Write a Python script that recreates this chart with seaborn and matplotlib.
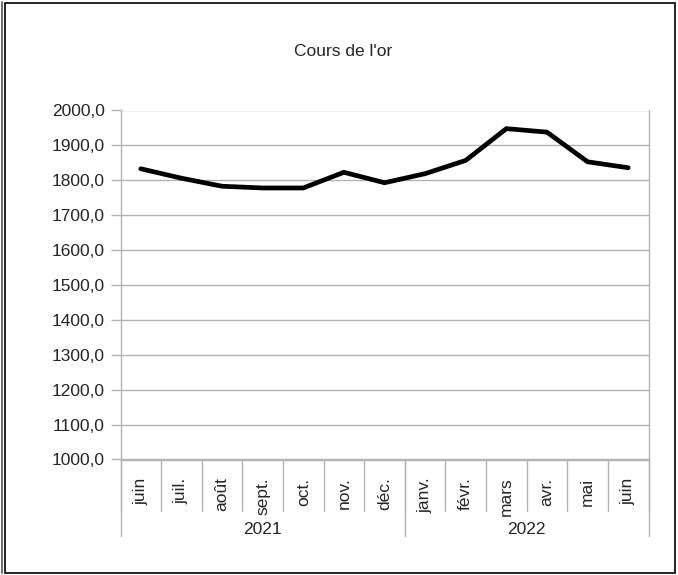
import matplotlib
matplotlib.use("Agg")
import matplotlib.pyplot as plt
import matplotlib.transforms as mtransforms
from matplotlib.patches import Rectangle
from matplotlib.lines import Line2D
import numpy as np
import pandas as pd
import seaborn as sns

# données
mois = ["juin", "juil.", "août", "sept.", "oct.", "nov.", "déc.",
        "janv.", "févr.", "mars", "avr.", "mai", "juin"]
annees = ["2021", "2022"]
mois_par_annee = [7, 6]
cours = [1833, 1806, 1783, 1778, 1778, 1823, 1793,
         1819, 1857, 1948, 1938, 1853, 1836]
y_ticks = list(range(1000, 2001, 100))

sns.set_style("white")
plt.rcParams["font.family"] = ["Liberation Sans", "DejaVu Sans"]

grid_col = "#b3b3b3"
fs = 12.5

df = pd.DataFrame({"pos": np.arange(len(mois)), "cours": cours})

fig = plt.figure(figsize=(6.78, 5.75), dpi=100)
ax = fig.add_axes([120.5 / 678, 1 - 459.5 / 575, 528 / 678, 349 / 575])

sns.lineplot(data=df, x="pos", y="cours", color="black", linewidth=3.4,
             ax=ax, solid_joinstyle="miter")

ax.set_xlim(-0.5, len(mois) - 0.5)
ax.set_ylim(1000, 2000)
ax.set_yticks(y_ticks)
ax.set_yticklabels([f"{v},0" for v in y_ticks], fontsize=fs)
ax.set_xticks([])
ax.set_xlabel("")
ax.set_ylabel("")
ax.grid(axis="y", color=grid_col, linewidth=1)
ax.set_axisbelow(True)
ax.tick_params(axis="y", left=True, length=7.5, width=1, color=grid_col, pad=4)
for side in ["left", "right", "bottom"]:
    ax.spines[side].set_color(grid_col)
    ax.spines[side].set_linewidth(1)
ax.spines["top"].set_visible(False)

# axe catégoriel à deux niveaux
trans = mtransforms.blended_transform_factory(ax.transData, ax.transAxes)
h = 1 / 349  # un pixel en coordonnées d'axe
for i in range(len(mois) + 1):
    ax.plot([i - 0.5, i - 0.5], [0, -51 * h], color=grid_col, lw=1,
            transform=trans, clip_on=False)
for i, m in enumerate(mois):
    ax.text(i, -18 * h, m, rotation=90, ha="center", va="top",
            fontsize=fs, transform=trans)

start = 0
bounds = [0]
for a, n in zip(annees, mois_par_annee):
    ax.text(start + (n - 1) / 2, -70 * h, a, ha="center", va="center",
            fontsize=fs, transform=trans)
    start += n
    bounds.append(start)
for b in bounds:
    ax.plot([b - 0.5, b - 0.5], [0, -76 * h], color=grid_col, lw=1,
            transform=trans, clip_on=False)

fig.text(343 / 678, 1 - 52 / 575, "Cours de l'or", ha="center", va="center",
         fontsize=fs)

# cadre extérieur
fig.patches.append(Rectangle((5 / 678, 2 / 575), 670 / 678, 570 / 575,
                             transform=fig.transFigure, fill=False,
                             edgecolor="black", linewidth=1.2))
fig.lines.append(Line2D([2 / 678, 2 / 678], [2 / 575, 1 - 2 / 575],
                        transform=fig.transFigure, color="#555555", lw=1.2))

fig.savefig("out.png", dpi=100)
